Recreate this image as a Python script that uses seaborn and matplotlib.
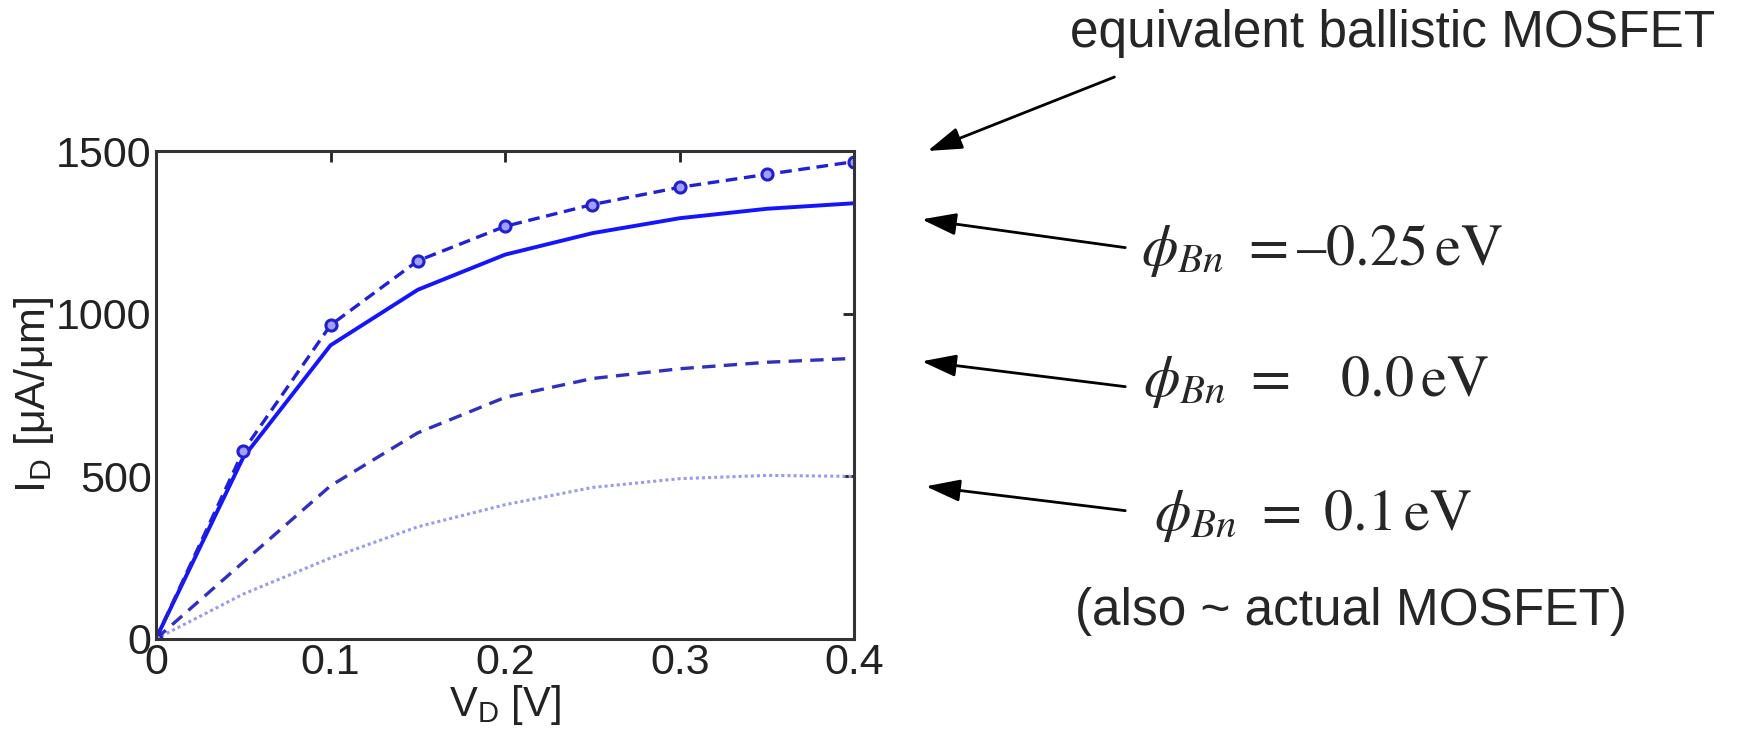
import numpy as np
import pandas as pd
import matplotlib
matplotlib.use("Agg")
import matplotlib.pyplot as plt
import seaborn as sns

# datos
vd = [0.0, 0.05, 0.10, 0.15, 0.20, 0.25, 0.30, 0.35, 0.40]
id_ballistic = [0, 578, 965, 1163, 1269, 1336, 1389, 1429, 1468]
id_m025 = [0, 558, 903, 1074, 1182, 1248, 1294, 1323, 1340]
id_00 = [0, 236, 471, 634, 743, 801, 831, 851, 863]
id_01 = [0, 138, 249, 345, 413, 466, 493, 503, 500]

x_ticks = [0, 0.1, 0.2, 0.3, 0.4]
y_ticks = [0, 500, 1000, 1500]

label_top = "equivalent ballistic MOSFET"
label_m025 = r"$\phi_{Bn}\ =\endash 0.25\,\mathrm{eV}$"
label_00 = r"$\phi_{Bn}\ =\ \ \ 0.0\,\mathrm{eV}$"
label_01 = r"$\phi_{Bn}\ =\ 0.1\,\mathrm{eV}$"
label_also = "(also ~ actual MOSFET)"

sns.set_style("white")
plt.rcParams["font.family"] = ["Liberation Sans", "DejaVu Sans"]

fig = plt.figure(figsize=(17.51, 7.47), dpi=100)
ax = fig.add_axes([0.089, 0.1446, 0.399, 0.653])

sns.lineplot(x=vd, y=id_01, ax=ax, color="#9a9af0", lw=2.2, linestyle=(0, (1, 1)))
sns.lineplot(x=vd, y=id_00, ax=ax, color="#3030c0", lw=2.4, linestyle=(0, (4, 2.5)))
sns.lineplot(x=vd, y=id_m025, ax=ax, color="#1414ff", lw=2.8)
sns.lineplot(x=vd, y=id_ballistic, ax=ax, color="#2020d8", lw=2.4, linestyle=(0, (3.5, 2)),
             marker="o", markersize=8, markerfacecolor="#a0a0f8", markeredgecolor="#2020d0",
             markeredgewidth=2.2)

ax.set_xlim(0, 0.4)
ax.set_ylim(0, 1500)
ax.set_xticks(x_ticks)
ax.set_xticklabels(["0", "0.1", "0.2", "0.3", "0.4"])
ax.set_yticks(y_ticks)
ax.tick_params(direction="in", length=8, width=2, top=True, right=True,
               labelsize=31, colors="#222222", pad=3)
for s in ax.spines.values():
    s.set_linewidth(2.2)
    s.set_color("#333333")
ax.set_xlabel(r"V$_\mathregular{D}$ [V]", fontsize=30, color="#222222", labelpad=0)
ax.set_ylabel(r"I$_\mathregular{D}$ [$\mathregular{\mu}$A/$\mathregular{\mu}$m]", fontsize=31,
              color="#222222", labelpad=0)

# textos y flechas a la derecha
fig.text(1393 / 1751, 1 - 34 / 747, label_top, fontsize=37, ha="center", va="center")
fig.text(1322 / 1751, 1 - 251 / 747, label_m025, fontsize=42, ha="center", va="center",
         math_fontfamily="stix")
fig.text(1316 / 1751, 1 - 382 / 747, label_00, fontsize=42, ha="center", va="center",
         math_fontfamily="stix")
fig.text(1313 / 1751, 1 - 516 / 747, label_01, fontsize=42, ha="center", va="center",
         math_fontfamily="stix")
fig.text(1351 / 1751, 1 - 612 / 747, label_also, fontsize=37, ha="center", va="center")

arrows = [((1117, 76), (925, 152)),
          ((1128, 248), (919, 219)),
          ((1128, 387), (919, 361)),
          ((1128, 511), (923, 486))]
for (x0, y0), (x1, y1) in arrows:
    fig.add_artist(matplotlib.patches.FancyArrowPatch(
        (x0 / 1751, 1 - y0 / 747), (x1 / 1751, 1 - y1 / 747),
        transform=fig.transFigure, arrowstyle="-|>,head_length=14,head_width=4.5",
        color="black", lw=2, mutation_scale=1.5))

fig.savefig("out.png", dpi=100)
